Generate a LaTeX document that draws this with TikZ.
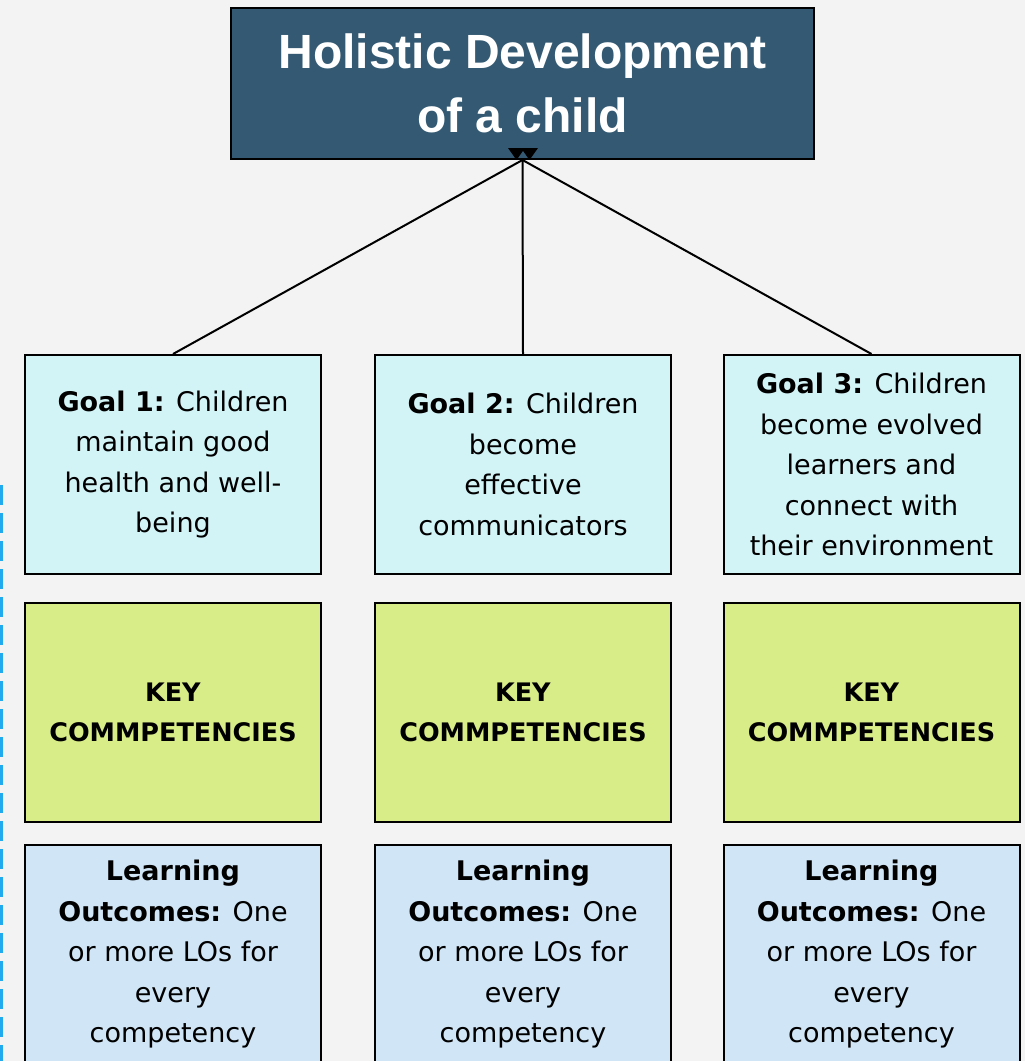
\documentclass[tikz,border=0pt]{standalone}
\usepackage{fontspec}
\setmainfont{DejaVu Sans}
\newfontfamily\titlefont{Liberation Sans}

\definecolor{bgcol}{HTML}{F2F3F2}
\definecolor{topcol}{HTML}{345A73}
\definecolor{goalcol}{HTML}{D3F4F7}
\definecolor{keycol}{HTML}{D8EC88}
\definecolor{locol}{HTML}{D0E5F5}
\definecolor{dashcol}{HTML}{22AAEE}

\tikzset{
  box/.style={draw=black, line width=2pt, minimum width=296pt, minimum height=219pt,
    align=center, inner sep=0pt, font=\fontsize{27}{40.5}\selectfont},
  goalbox/.style={box, fill=goalcol},
  keybox/.style={box, fill=keycol, font=\fontsize{25.5}{40.5}\selectfont},
  lobox/.style={box, fill=locol},
  link/.style={line width=2pt}
}

\begin{document}
\begin{tikzpicture}[x=1pt,y=-1pt]
  \fill[bgcol] (0,0) rectangle (1025,1061);
  \useasboundingbox (0,0) rectangle (1025,1061);
  \draw[dashcol, line width=3pt, dash pattern=on 20pt off 8pt] (1.5,485) -- (1.5,1061);

  \node[draw=black, line width=2pt, fill=topcol, minimum width=583pt, minimum height=151pt,
    text=white, align=center, font=\titlefont\bfseries\fontsize{48}{64}\selectfont]
    (top) at (522.5,83.5) {Holistic Development\\of a child};

  % goals
  \node[goalbox] (goal1) at (173,464.5)
    {\textbf{Goal 1:} Children\\maintain good\\health and well-\\being};
  \node[goalbox] (goal2) at (523,464.5)
    {\textbf{Goal 2:} Children\\become\\effective\\communicators};
  \node[goalbox] (goal3) at (871.5,464.5)
    {\textbf{Goal 3:} Children\\become evolved\\learners and\\connect with\\their environment};

  % key competencies
  \node[keybox] (key1) at (173,712.5) {\textbf{KEY}\\\textbf{COMMPETENCIES}};
  \node[keybox] (key2) at (523,712.5) {\textbf{KEY}\\\textbf{COMMPETENCIES}};
  \node[keybox] (key3) at (871.5,712.5) {\textbf{KEY}\\\textbf{COMMPETENCIES}};

  % learning outcomes
  \node[lobox] (lo1) at (173,954.5)
    {\textbf{Learning}\\\textbf{Outcomes:} One\\or more LOs for\\every\\competency};
  \node[lobox] (lo2) at (523,954.5)
    {\textbf{Learning}\\\textbf{Outcomes:} One\\or more LOs for\\every\\competency};
  \node[lobox] (lo3) at (871.5,954.5)
    {\textbf{Learning}\\\textbf{Outcomes:} One\\or more LOs for\\every\\competency};

  \draw[link] (goal1.north) -- (top.south);
  \draw[link] (goal2.north) -- (top.south);
  \draw[link] (goal3.north) -- (top.south);
  \foreach \dx in {-6,7}
    \fill ([xshift=\dx pt]top.south) -- ++(-8.5,-12) -- ++(17,0) -- cycle;
\end{tikzpicture}
\end{document}
